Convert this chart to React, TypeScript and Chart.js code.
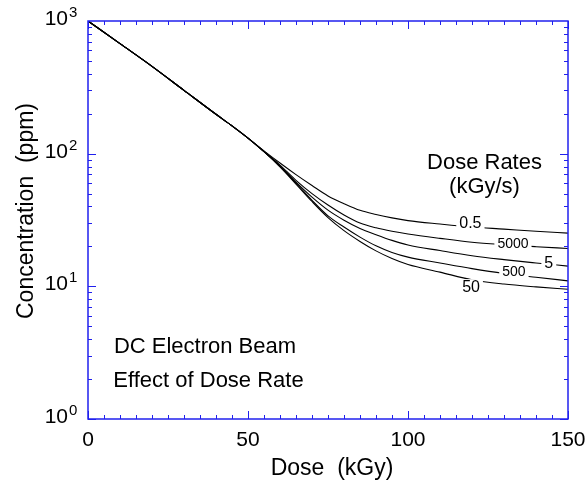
import React, { useEffect, useRef } from "react";
import { Chart, registerables } from "chart.js";

Chart.register(...registerables);

const doses = [0, 10, 20, 30, 40, 45, 50, 55, 60, 65, 70, 75, 80, 85, 90, 95, 100, 110, 120, 130, 140, 150];

const rate05 = [1000, 675, 455, 300, 198, 162, 131, 105, 85, 69.5, 57.5, 48, 42, 37.4, 34.8, 32.8, 31.3, 29.5, 28.0, 27.0, 26.0, 25.2];
const rate5000 = [1000, 675, 455, 300, 198, 162, 131, 104, 82, 63, 50, 41, 34.5, 30, 27.6, 26, 24.8, 23.0, 21.5, 20.6, 19.9, 19.3];
const rate5 = [1000, 675, 455, 300, 198, 162, 131, 103.5, 81, 61, 47, 37.5, 31.5, 27.3, 24.5, 22.2, 20.5, 18.6, 17.0, 15.9, 15.0, 14.2];
const rate500 = [1000, 675, 455, 300, 198, 162, 131, 103.5, 80, 60, 44.5, 34, 28, 23.5, 20.2, 18, 16.6, 15.0, 13.6, 12.5, 11.7, 11.0];
const rate50 = [1000, 675, 455, 300, 198, 162, 131, 103.5, 79.5, 59, 43.6, 33, 26.3, 21.8, 18.5, 16.2, 14.6, 12.8, 11.2, 10.4, 9.9, 9.5];

const seriesNames = ["0.5", "5000", "5", "500", "50"];
const seriesValues = [rate05, rate5000, rate5, rate500, rate50];

// curve label anchors: [dose, concentration]
const labelDoses = [119.5, 132.8, 144, 133.1, 119.7];
const labelValues = [30.4, 21.1, 15.2, 13.1, 10.0];
const labelSizes = [16, 14, 16, 14, 16];

const xTicks = [0, 50, 100, 150];
const xMinorStep = 5;
const yDecades = [1, 10, 100, 1000];
const yExponents = ["0", "1", "2", "3"];

const FONT = '"Liberation Sans", Arial, Helvetica, sans-serif';
const BLUE = "#2020ee";

const framePlugin = {
  id: "frameAndText",
  afterDatasetsDraw(chart: any) {
    const ctx = chart.ctx as CanvasRenderingContext2D;
    const xs = chart.scales.x;
    const ys = chart.scales.y;
    const { left, right, top, bottom } = chart.chartArea;

    // curve labels with white background
    ctx.save();
    for (let i = 0; i < seriesNames.length; i++) {
      const px = xs.getPixelForValue(labelDoses[i]);
      const py = ys.getPixelForValue(labelValues[i]);
      ctx.font = `${labelSizes[i]}px ${FONT}`;
      const w = ctx.measureText(seriesNames[i]).width;
      ctx.fillStyle = "#ffffff";
      ctx.fillRect(px - w / 2 - 3, py - labelSizes[i] * 0.45, w + 6, labelSizes[i] * 0.9);
      ctx.fillStyle = "#000000";
      ctx.textAlign = "center";
      ctx.textBaseline = "middle";
      ctx.fillText(seriesNames[i], px, py + 1);
    }
    ctx.restore();

    // frame
    ctx.save();
    ctx.strokeStyle = BLUE;
    ctx.lineWidth = 1.5;
    ctx.strokeRect(left, top, right - left, bottom - top);

    ctx.lineWidth = 1;
    ctx.beginPath();
    // x ticks (top and bottom, inward)
    for (let v = 0; v <= 150; v += xMinorStep) {
      const px = Math.round(xs.getPixelForValue(v)) + 0.5;
      const len = v % 50 === 0 ? 8 : 4;
      ctx.moveTo(px, bottom);
      ctx.lineTo(px, bottom - len);
      ctx.moveTo(px, top);
      ctx.lineTo(px, top + len);
    }
    // y ticks (left and right, inward)
    for (let d = 0; d < 3; d++) {
      for (let m = 1; m <= 9; m++) {
        const v = yDecades[d] * m;
        const py = Math.round(ys.getPixelForValue(v)) + 0.5;
        const len = m === 1 ? 8 : 4;
        ctx.moveTo(left, py);
        ctx.lineTo(left + len, py);
        ctx.moveTo(right, py);
        ctx.lineTo(right - len, py);
      }
    }
    ctx.stroke();
    ctx.restore();

    // tick labels
    ctx.save();
    ctx.fillStyle = "#000000";
    ctx.textBaseline = "alphabetic";
    ctx.font = `21px ${FONT}`;
    ctx.textAlign = "center";
    for (const v of xTicks) {
      ctx.fillText(String(v), xs.getPixelForValue(v), 446);
    }
    for (let i = 0; i < yDecades.length; i++) {
      const py = ys.getPixelForValue(yDecades[i]);
      ctx.font = `21px ${FONT}`;
      ctx.textAlign = "right";
      ctx.fillText("10", 68, py + 4);
      ctx.font = `15px ${FONT}`;
      ctx.textAlign = "left";
      ctx.fillText(yExponents[i], 69, py - 4);
    }

    // axis titles
    ctx.font = `23px ${FONT}`;
    ctx.textAlign = "center";
    ctx.fillText("Dose  (kGy)", 332, 475);
    ctx.save();
    ctx.translate(33, 211);
    ctx.rotate(-Math.PI / 2);
    ctx.fillText("Concentration  (ppm)", 0, 0);
    ctx.restore();

    // annotations
    ctx.font = `22px ${FONT}`;
    ctx.textAlign = "center";
    ctx.fillText("Dose Rates", 484.5, 169);
    ctx.fillText("(kGy/s)", 484.5, 193);
    ctx.fillText("DC Electron Beam", 205, 353);
    ctx.fillText("Effect of Dose Rate", 208.5, 387);
    ctx.restore();
  },
};

export default function App() {
  const canvasRef = useRef<HTMLCanvasElement | null>(null);

  useEffect(() => {
    const canvas = canvasRef.current;
    if (!canvas) return;
    const datasets = seriesNames.map((name, i) => ({
      label: name,
      data: doses.map((d, j) => ({ x: d, y: seriesValues[i][j] })),
      borderColor: "#000000",
      borderWidth: 1.1,
      pointRadius: 0,
      fill: false,
      cubicInterpolationMode: "monotone" as const,
    }));
    const chart = new Chart(canvas, {
      type: "line",
      data: { datasets },
      options: {
        animation: false,
        responsive: false,
        devicePixelRatio: 1,
        layout: { padding: { left: 88, right: 20, top: 21, bottom: 65 } },
        plugins: { legend: { display: false }, tooltip: { enabled: false } },
        scales: {
          x: { type: "linear", min: 0, max: 150, display: false },
          y: { type: "logarithmic", min: 1, max: 1000, display: false },
        },
      },
      plugins: [framePlugin],
    });
    return () => chart.destroy();
  }, []);

  return (
    <div style={{ position: "absolute", left: 0, top: 0, width: 588, height: 484, background: "#ffffff" }}>
      <canvas ref={canvasRef} width={588} height={484} style={{ display: "block" }} />
    </div>
  );
}
